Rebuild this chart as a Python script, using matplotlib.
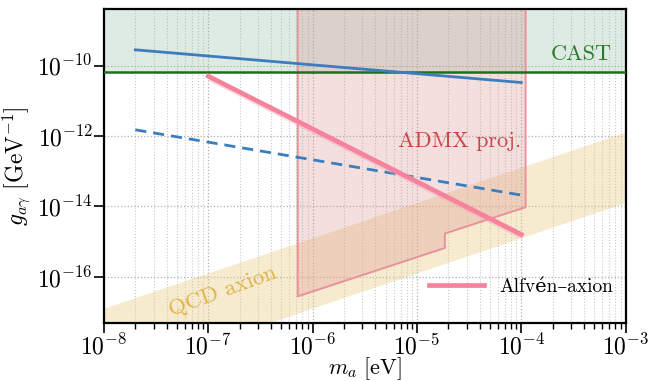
import numpy as np
import matplotlib
matplotlib.use("Agg")
import matplotlib.pyplot as plt

plt.rcParams["font.family"] = ["cmr10", "DejaVu Serif"]
plt.rcParams["mathtext.fontset"] = "cm"
plt.rcParams["axes.formatter.use_mathtext"] = True
plt.rcParams["axes.unicode_minus"] = False

# data
cast_g = 6.6e-11

blue_m = [2e-8, 1e-4]
blue_solid_g = [2.8e-10, 3.3e-11]
blue_dashed_g = [1.5e-12, 2.1e-14]

alfven_m = [1e-7, 1e-4]
alfven_g = [5.0e-11, 1.6e-15]

admx_m = [7.2e-7, 7.2e-7, 1.85e-5, 1.85e-5, 1.1e-4, 1.1e-4]
admx_g = [1e-8, 2.8e-17, 6.6e-16, 1.7e-15, 9.5e-15, 1e-8]

qcd_m = [1e-8, 1e-3]
qcd_upper = [1.3e-17, 1.3e-12]
qcd_lower = [1.3e-19, 1.3e-14]

fig = plt.figure(figsize=(6.62, 3.81), dpi=100)
ax = fig.add_axes([0.157, 0.153, 0.788, 0.823])

# QCD band
ax.fill_between(qcd_m, qcd_lower, qcd_upper, color="#e9c982", alpha=0.38, lw=0, zorder=1)

# CAST
ax.fill_between([1e-8, 1e-3], cast_g, 1e-8, color="#86b89a", alpha=0.28, lw=0, zorder=1)
ax.axhline(cast_g, color="#1e6e1e", lw=1.8, zorder=3)

# ADMX projection
ax.fill(admx_m, admx_g, facecolor="#d98c8c", alpha=0.28, edgecolor="none", zorder=2)
ax.plot(admx_m, admx_g, color="#e8929b", lw=1.4, zorder=2)

# blue lines
ax.plot(blue_m, blue_solid_g, color="#3b7dbd", lw=2.0, zorder=4)
ax.plot(blue_m, blue_dashed_g, color="#3b7dbd", lw=2.0, ls=(0, (4, 2.5)), zorder=4)

# Alfven-axion
ax.fill_between(alfven_m, np.array(alfven_g) * 0.75, alfven_g, color="#f6a3b5", alpha=0.4, lw=0, zorder=4)
ax.plot(alfven_m, alfven_g, color="#f5839d", lw=3.4, zorder=5, label="Alfv\u00e9n\u2013axion")

ax.text(7.4e-4, 1.4e-10, "CAST", color="#2a7a2a", fontsize=16, ha="right", va="baseline", zorder=6)
ax.text(1.0e-4, 5.0e-13, "ADMX proj.", color="#c84646", fontsize=16, ha="right", va="baseline", zorder=6)
ax.text(1.38e-7, 3.9e-17, "QCD axion", color="#e2b445", fontsize=16.5, ha="center", va="center",
        rotation=20, rotation_mode="anchor", zorder=6)

ax.set_xscale("log")
ax.set_yscale("log")
ax.set_xlim(1e-8, 1e-3)
ax.set_ylim(5e-18, 4e-9)
ax.set_yticks([1e-16, 1e-14, 1e-12, 1e-10])
ax.yaxis.set_minor_locator(matplotlib.ticker.NullLocator())
ax.xaxis.set_minor_locator(matplotlib.ticker.LogLocator(base=10, subs=np.arange(2, 10), numticks=20))

ax.grid(True, which="major", ls=":", color="#b0b0b0", lw=0.9)
ax.grid(True, which="minor", axis="x", ls=":", color="#c8c8c8", lw=0.8)
ax.set_axisbelow(True)

ax.tick_params(axis="both", which="major", labelsize=17, length=7, width=1.2, pad=1)
ax.tick_params(axis="x", which="minor", length=4, width=1.0)
for s in ax.spines.values():
    s.set_linewidth(1.6)

ax.set_xlabel(r"$m_a\ [\mathrm{eV}]$", fontsize=16, labelpad=-3)
ax.set_ylabel(r"$g_{a\gamma}\ [\mathrm{GeV}^{-1}]$", fontsize=17, labelpad=4)

ax.legend(loc="lower right", frameon=False, fontsize=14, handlelength=2.8,
          bbox_to_anchor=(1.01, 0.03))

fig.savefig("out.png", dpi=100)
